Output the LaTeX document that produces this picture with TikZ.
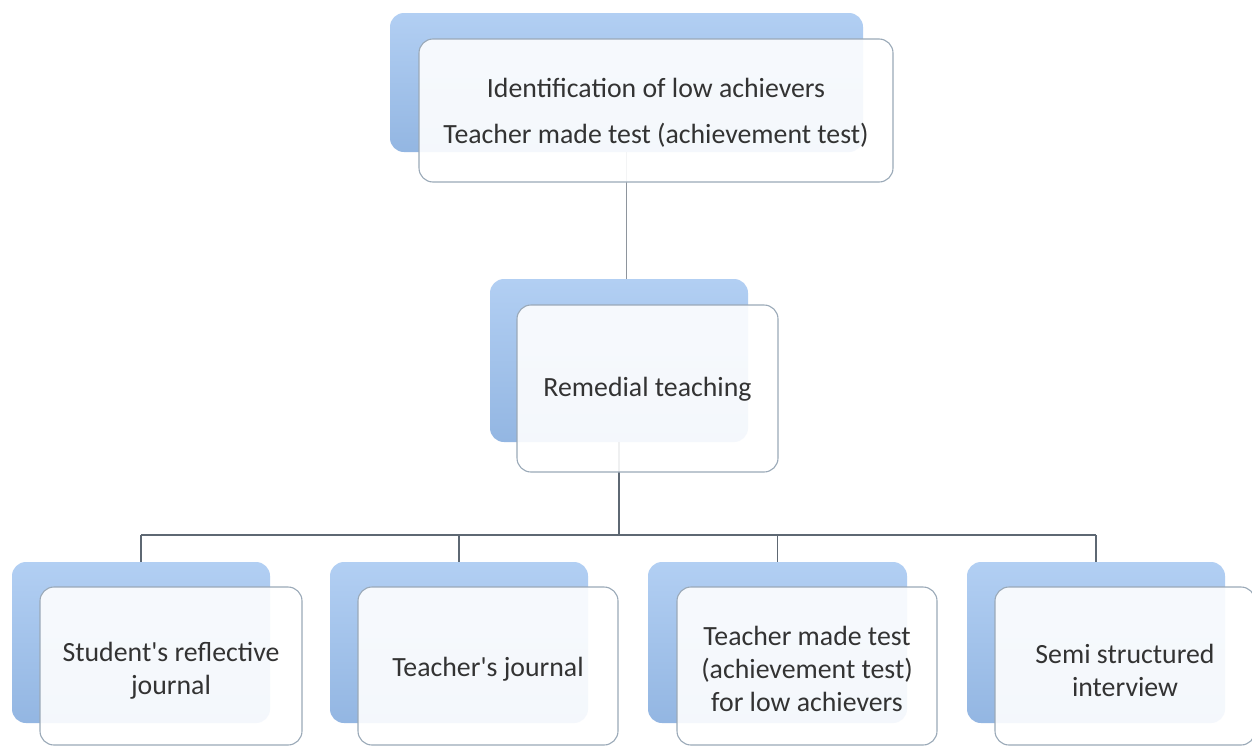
\documentclass[tikz,border=0pt]{standalone}
\usepackage{fontspec}
\setmainfont{Carlito}[Ligatures=TeXOff]
\definecolor{blueTop}{HTML}{B2CFF3}
\definecolor{blueBot}{HTML}{93B6E2}
\definecolor{frameC}{HTML}{9AA9B8}
\definecolor{lineC}{HTML}{5E6873}
\definecolor{txtC}{HTML}{333333}
\begin{document}
\begin{tikzpicture}[x=1pt,y=-1pt,
  backbox/.style={rounded corners=14pt, top color=blueTop, bottom color=blueBot, draw=none, inner sep=0pt},
  frontbox/.style={rounded corners=14pt, fill=white, fill opacity=0.9, draw=frameC, line width=1.1pt, inner sep=0pt},
  txt/.style={align=center, text=txtC, inner sep=0pt, font=\fontsize{27.8}{33}\selectfont},
  conn/.style={draw=lineC, line width=1.7pt}]
\useasboundingbox (0,0) rectangle (1252,747);
\fill[white] (0,0) rectangle (1252,747);
% back boxes
\node[backbox, minimum width=473pt, minimum height=139pt] (tb) at (626.5,82.5) {};
\node[backbox, minimum width=258pt, minimum height=163pt] (rb) at (619,360.5) {};
\node[backbox, minimum width=258pt, minimum height=161pt] (b1) at (141,642.5) {};
\node[backbox, minimum width=258pt, minimum height=161pt] (b2) at (459,642.5) {};
\node[backbox, minimum width=259pt, minimum height=161pt] (b3) at (777.5,642.5) {};
\node[backbox, minimum width=258pt, minimum height=161pt] (b4) at (1096,642.5) {};
% connectors
\coordinate (bar) at (0,535);
\draw[conn, line width=1.3pt, draw=lineC!70] (tb.south) -- (tb.south |- rb.north);
\draw[conn] (rb.south) -- (rb.south |- bar);
\draw[conn] (b1.north |- bar) -- (b4.north |- bar);
\foreach \b in {b1,b2,b3,b4} {\draw[conn] (\b.north |- bar) -- (\b.north);}
% front boxes
\node[frontbox, minimum width=474pt, minimum height=143pt] (tf) at (656,110.5) {};
\node[frontbox, minimum width=261pt, minimum height=167pt] (rf) at (647.5,388.5) {};
\node[frontbox, minimum width=262pt, minimum height=158pt] (f1) at (171,666) {};
\node[frontbox, minimum width=260pt, minimum height=158pt] (f2) at (488,666) {};
\node[frontbox, minimum width=260pt, minimum height=158pt] (f3) at (807,666) {};
\node[frontbox, minimum width=260pt, minimum height=158pt] (f4) at (1125,666) {};
% texts
\node[txt, font=\fontsize{27.8}{46}\selectfont] (tt) at ([yshift=-2pt]tf.center) {Identification of low achievers\\Teacher made test (achievement test)};
\node[txt] (rt) at ([yshift=-1pt]rf.center) {Remedial teaching};
\node[txt] (t1) at ([yshift=-5pt]f1.center) {Student's reflective\\journal};
\node[txt] (t2) at ([yshift=-3pt]f2.center) {Teacher's journal};
\node[txt] (t3) at ([yshift=-3pt]f3.center) {Teacher made test\\(achievement test)\\for low achievers};
\node[txt] (t4) at ([yshift=-4pt]f4.center) {Semi structured\\interview};
\end{tikzpicture}
\end{document}
